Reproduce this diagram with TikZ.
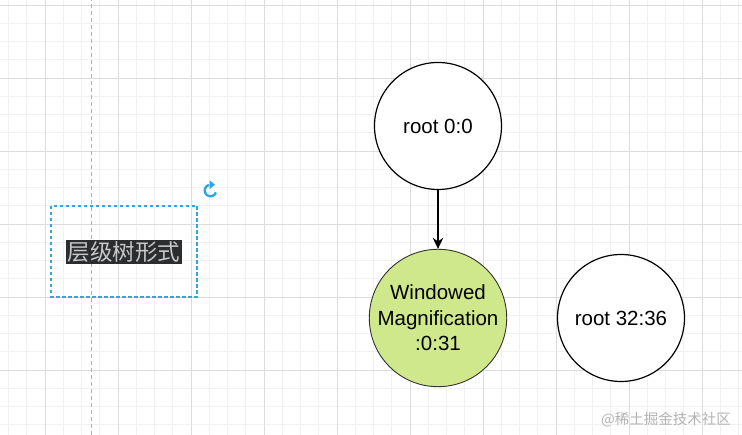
\documentclass[tikz,border=0pt]{standalone}
\usepackage{fontspec}
\setmainfont{Liberation Sans}
\newfontfamily\cjk{Noto Sans CJK SC}
\usepackage{tikz}
\usetikzlibrary{trees,arrows.meta}

\definecolor{gridminor}{HTML}{F1F1F1}
\definecolor{gridmajor}{HTML}{DCDCDC}
\definecolor{selblue}{HTML}{2EA7DF}
\definecolor{leafgreen}{HTML}{D0E88C}
\definecolor{labelbg}{HTML}{2B2D2F}

\begin{document}
\begin{tikzpicture}[
  x=1pt, y=1pt,
  grow=down,
  level distance=192pt,
  every node/.style={circle, draw=black, line width=1.2pt, fill=white, align=center, minimum size=127pt, inner sep=0pt, font=\fontsize{20.5}{25.5}\selectfont},
  leaf/.style={fill=leafgreen, draw=black!80, line width=0.9pt},
  edge from parent/.style={draw, line width=1.2pt, -{Stealth[length=11pt,width=10.5pt]}},
  plain label/.style={rectangle, draw=none, fill=none, minimum size=0pt, line width=0pt}
]
\useasboundingbox (0,0) rectangle (742,435);

% Raster
\foreach \gx in {8.5,26.75,...,742} \draw[gridminor, line width=0.7pt] (\gx,0) -- (\gx,435);
\foreach \gy in {5,23.25,...,435} \draw[gridminor, line width=0.7pt] (0,{435-\gy}) -- (742,{435-\gy});
\foreach \gx in {45,118,...,742} \draw[gridmajor, line width=0.7pt] (\gx,0) -- (\gx,435);
\foreach \gy in {5,78,...,435} \draw[gridmajor, line width=0.7pt] (0,{435-\gy}) -- (742,{435-\gy});
\draw[black!30, line width=0.8pt, dash pattern=on 4pt off 3pt] (91,0) -- (91,435);

% Auswahl
\draw[selblue, line width=1.3pt, dash pattern=on 3.5pt off 2.5pt] (51,229) rectangle (197,138);
\node[plain label, fill=labelbg, text=black!22, inner sep=1.5pt, font=\cjk\fontsize{22.5}{25}\selectfont] (title) at (124,183) {层级树形式};
\begin{scope}[shift={(210.5,244.5)}]
  \draw[selblue, line width=2.4pt] (-20:5.8) arc (-20:-255:5.8);
  \fill[selblue] (4.5,5.8) -- (-1,10.3) -- (-1,1.3) -- cycle;
\end{scope}

% Baum
\node (root) at (438,309) {root 0:0}
  child {node[leaf] (win) {Windowed\\Magnification\\:0:31}};
\node (root2) at (621,117) {root 32:36};

% Wasserzeichen
\node[plain label, text=black!30, font=\cjk\fontsize{14.5}{16}\selectfont] (mark) at (666,15) {@稀土掘金技术社区};
\end{tikzpicture}
\end{document}
